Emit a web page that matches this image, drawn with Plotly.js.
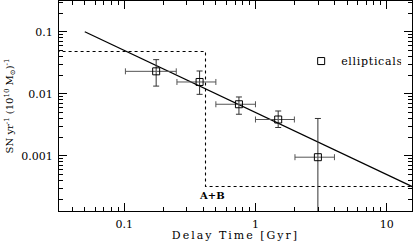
<!DOCTYPE html>
<html>
<head>
<meta charset="utf-8">
<script src="https://cdn.plot.ly/plotly-3.0.1.min.js"></script>
<style>
html,body{margin:0;padding:0;background:#fff;}
#chart{width:413px;height:242px;}
#chart .xtitle{letter-spacing:2px;}
#chart .legendtext{letter-spacing:0.7px;}
</style>
</head>
<body>
<div id="chart"></div>
<script>
// Data: elliptical SN rates vs delay time
const delayTime = [0.175, 0.375, 0.748, 1.49, 2.99];
const snRate = [0.0230, 0.0155, 0.00678, 0.00385, 0.00095];
const timeErrMinus = [0.073, 0.123, 0.249, 0.49, 0.99];
const timeErrPlus = [0.074, 0.124, 0.252, 0.49, 1.01];
const rateErrPlus = [0.0125, 0.0078, 0.0021, 0.00143, 0.00305];
const rateErrMinus = [0.0097, 0.0057, 0.0021, 0.00099, 0.00305];

// Power-law model line (t^-1)
const modelTime = [0.05, 20];
const modelRate = [0.1, 0.00025];

// A+B step model
const stepTime = [0.02, 0.416, 0.416, 20];
const stepRate = [0.048, 0.048, 0.00032, 0.00032];

// Tick labels
const xTickVals = [0.1, 1, 10];
const xTickText = ['0.1', '1', '10'];
const yTickVals = [0.0001, 0.001, 0.01, 0.1];
const yTickText = ['0.0001', '0.001', '0.01', '0.1'];

function minorLogTicks(lo, hi) {
  const out = [];
  for (let e = lo; e <= hi; e++) {
    for (let m = 2; m <= 9; m++) out.push(m * Math.pow(10, e));
  }
  return out;
}

const fontFam = 'DejaVu Serif, serif';

const traces = [
  {
    x: stepTime, y: stepRate, mode: 'lines', type: 'scatter',
    line: {color: '#000', width: 1.1, dash: 'dot'},
    showlegend: false, hoverinfo: 'skip'
  },
  {
    x: modelTime, y: modelRate, mode: 'lines', type: 'scatter',
    line: {color: '#000', width: 1.3},
    showlegend: false, hoverinfo: 'skip'
  },
  {
    x: delayTime, y: snRate, mode: 'markers', type: 'scatter',
    name: 'ellipticals',
    marker: {symbol: 'square-open', size: 7, color: '#000', line: {width: 1, color: '#000'}},
    error_x: {type: 'data', symmetric: false, array: timeErrPlus, arrayminus: timeErrMinus,
              color: '#555', thickness: 1, width: 3},
    error_y: {type: 'data', symmetric: false, array: rateErrPlus, arrayminus: rateErrMinus,
              color: '#333', thickness: 1, width: 3}
  }
];

const axisCommon = {
  type: 'log',
  showline: true, linecolor: '#000', linewidth: 1, mirror: 'ticks',
  ticks: 'inside', ticklen: 8, tickwidth: 1, tickcolor: '#000',
  showgrid: false, zeroline: false,
  tickfont: {family: fontFam, size: 11, color: '#000'},
  minor: {ticks: 'inside', ticklen: 4, tickwidth: 1, tickcolor: '#000', showgrid: false}
};

const layout = {
  width: 413, height: 242,
  margin: {l: 59, r: 1, t: 1, b: 31},
  paper_bgcolor: '#fff', plot_bgcolor: '#fff',
  font: {family: fontFam, size: 11, color: '#000'},
  xaxis: Object.assign({}, axisCommon, {
    range: [Math.log10(0.0318), Math.log10(15.6)],
    tickmode: 'array', tickvals: xTickVals, ticktext: xTickText,
    ticklabelstandoff: 3,
    minor: Object.assign({}, axisCommon.minor, {tickmode: 'array', tickvals: minorLogTicks(-2, 1)}),
    title: {text: 'Delay Time [Gyr]', font: {family: fontFam, size: 11}, standoff: 2}
  }),
  yaxis: Object.assign({}, axisCommon, {
    range: [Math.log10(0.000129), Math.log10(0.313)],
    tickmode: 'array', tickvals: yTickVals, ticktext: yTickText,
    ticklabelstandoff: 3,
    minor: Object.assign({}, axisCommon.minor, {tickmode: 'array', tickvals: minorLogTicks(-4, -1)}),
    title: {text: 'SN yr<sup>-1</sup> (10<sup>10</sup> M<sub>⊙</sub>)<sup>-1</sup>', font: {family: fontFam, size: 10}, standoff: 5}
  }),
  showlegend: true,
  legend: {x: 0.686, y: 0.714, xanchor: 'left', yanchor: 'middle', bgcolor: 'rgba(0,0,0,0)',
           font: {family: fontFam, size: 11, color: '#000'}},
  annotations: [
    {x: Math.log10(0.466), y: Math.log10(0.000228), xref: 'x', yref: 'y', text: '<b>A+B</b>',
     showarrow: false, font: {family: fontFam, size: 10, color: '#000'}}
  ]
};

Plotly.newPlot('chart', traces, layout, {staticPlot: true, displayModeBar: false});
</script>
</body>
</html>
